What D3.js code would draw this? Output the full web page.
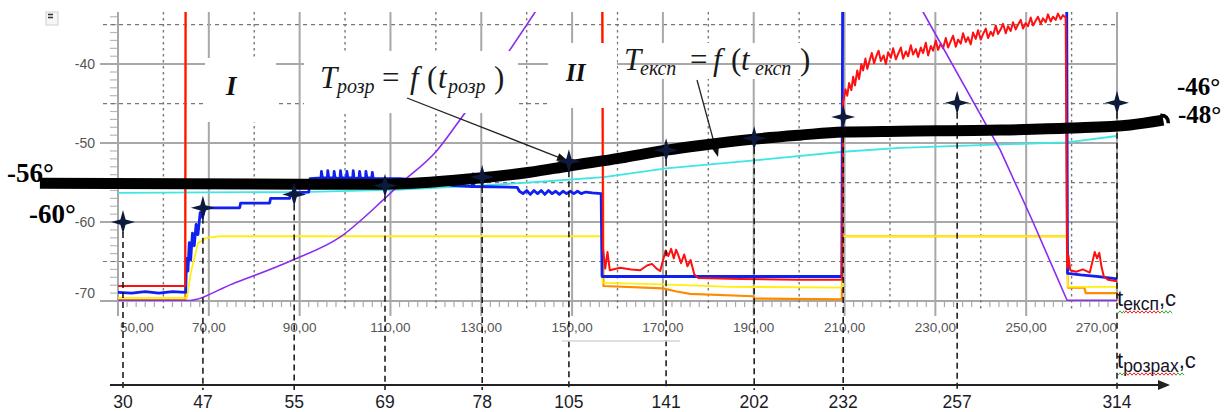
<!DOCTYPE html>
<html>
<head>
<meta charset="utf-8">
<script src="https://cdn.jsdelivr.net/npm/d3@7"></script>
<style>
  body { margin: 0; background: #fff; }
  svg { display: block; }
</style>
</head>
<body>
<svg id="chart" width="1229" height="412"></svg>
<script>
// ---- data ----
// experimental time axis (top), labels every 20 s
const xTicks = [50, 70, 90, 110, 130, 150, 170, 190, 210, 230, 250, 270];
const yTicks = [-40, -50, -60, -70];

// calculated time axis (bottom) and where each point sits on the experimental axis
const calcLabels = [30, 47, 55, 69, 78, 105, 141, 202, 232, 257, 314];
const calcAtExp = [51.1, 68.7, 88.8, 108.8, 130.2, 149.3, 170.7, 190.1, 209.7, 234.8, 270];
const markTemp = [-60.0, -58.2, -56.5, -55.4, -54.3, -52.3, -50.9, -49.4, -46.7, -44.9, -44.9];

// T_розр = f(t_розр), thick black curve
const calcCurve = [[32.8, -55.1], [90.1, -55.2], [108.8, -55.2], [118.7, -54.95], [130.2, -54.4],
  [140.7, -53.7], [149.3, -52.9], [160.6, -51.9], [170.7, -50.9], [178.2, -50.3], [190.1, -49.5],
  [200.2, -49.0], [209.7, -48.6], [222.2, -48.5], [244.3, -48.35], [259.7, -48.1], [272.9, -47.7],
  [280.2, -47.1]];

// measured channels
const tempRed = [[50, -68.1], [64.8, -68.1], [64.9, -28], [156.6, -28], [156.8, -63.3], [157.3, -65.9],
  [157.8, -63.8], [158.3, -66.1], [160.6, -65.8], [163, -66.0], [165.0, -66.1], [166.5, -65.5],
  [167.6, -65.3], [168.6, -65.9], [169.4, -66.2], [170.0, -64.9], [170.6, -63.6], [171.2, -64.3],
  [171.8, -63.4], [172.4, -64.6], [172.9, -63.5], [173.4, -64.2], [174.0, -65.2], [174.7, -64.1],
  [175.4, -65.6], [176.1, -64.8], [176.9, -66.6], [177.8, -67.1], [187, -67.2], [200, -67.3],
  [209.4, -67.3], [209.7, -44.8], [210.2, -43.2], [210.6, -44.0], [211.0, -42.4], [211.5, -43.3],
  [211.9, -41.6], [212.3, -42.7], [212.8, -40.8], [213.2, -41.9], [213.7, -40.0], [214.1, -40.8],
  [214.6, -39.3], [215.0, -40.6], [215.5, -39.6], [216.0, -38.6], [216.5, -39.9], [217.0, -39.0],
  [217.5, -38.3], [218.0, -39.6], [218.6, -38.9], [219.1, -40.0], [219.6, -38.5], [220.2, -39.2],
  [220.7, -38.0], [221.3, -39.4], [221.8, -38.7], [222.4, -37.9], [222.9, -39.3], [223.5, -38.4],
  [224.0, -39.0], [224.6, -37.6], [225.1, -38.8], [225.7, -38.1], [226.2, -39.1], [226.8, -37.9],
  [227.3, -38.6], [227.9, -37.3], [228.4, -38.9], [229.0, -37.7], [229.5, -38.3], [230.1, -37.0],
  [230.6, -38.2], [231.2, -37.4], [231.7, -38.0], [232.3, -36.7], [232.8, -37.9], [233.4, -37.1],
  [233.9, -36.4], [234.5, -37.8], [235.0, -36.9], [235.6, -37.4], [236.1, -36.1], [236.7, -37.2],
  [237.2, -36.6], [237.8, -37.5], [238.3, -36.0], [238.9, -36.8], [239.4, -35.7], [240.0, -36.9],
  [240.5, -36.2], [241.1, -35.5], [241.6, -36.7], [242.2, -35.9], [242.7, -36.4], [243.3, -35.1],
  [243.8, -36.2], [244.4, -35.6], [244.9, -34.9], [245.5, -36.1], [246.0, -35.2], [246.6, -35.8],
  [247.1, -34.7], [247.7, -35.6], [248.2, -35.0], [248.8, -34.4], [249.3, -35.5], [249.9, -34.8],
  [250.4, -35.2], [251.0, -34.1], [251.5, -35.1], [252.1, -34.5], [252.6, -34.0], [253.2, -34.9],
  [253.7, -34.2], [254.3, -34.7], [254.8, -33.7], [255.4, -34.6], [255.9, -34.0], [256.5, -34.4],
  [257.0, -33.6], [257.6, -34.3], [258.1, -33.8], [258.7, -34.1], [259.0, -65.8], [259.3, -64.2],
  [259.7, -66.1], [261.0, -66.3], [262.5, -66.0], [264.0, -66.4], [264.6, -65.0], [265.1, -63.8],
  [265.6, -64.6], [266.1, -63.9], [266.6, -65.7], [267.1, -66.9], [268, -67.3], [270, -67.5]];

const tempBlue = [[50, -68.9], [53, -69.0], [56, -68.8], [59, -69.0], [62, -68.8], [64.9, -68.9],
  [65.1, -64.6], [65.4, -66.2], [65.7, -62.6], [66.0, -64.8], [66.4, -61.4], [66.8, -63.0],
  [67.2, -60.3], [67.6, -61.6], [68.1, -58.8], [68.6, -59.4], [69.2, -58.2], [76.8, -58.2],
  [77.0, -57.6], [83.4, -57.6], [83.6, -57.0], [87.8, -57.0], [88.0, -56.3], [92.0, -56.2],
  [92.3, -54.5], [94.7, -54.4], [94.8, -53.6], [95.0, -54.4], [96.1, -54.4], [96.2, -53.5],
  [96.4, -54.4], [97.5, -54.4], [97.6, -53.6], [97.8, -54.4], [98.9, -54.5], [99.0, -53.5],
  [99.2, -54.4], [100.3, -54.4], [100.4, -53.6], [100.6, -54.4], [101.7, -54.4], [101.8, -53.5],
  [102.0, -54.5], [103.1, -54.4], [103.2, -53.6], [103.4, -54.4], [104.5, -54.5], [104.6, -53.6],
  [104.8, -54.4], [105.9, -54.4], [106.0, -53.7], [106.2, -54.5], [112, -54.5], [118.7, -54.8],
  [123.8, -55.4], [128.0, -55.5], [128.2, -53.9], [128.4, -55.5], [137.9, -55.6], [138.4, -56.1],
  [139.2, -56.4], [140.0, -56.0], [140.8, -56.5], [141.6, -56.0], [142.4, -56.4], [143.2, -56.0],
  [144.0, -56.5], [144.8, -56.0], [145.6, -56.4], [146.4, -56.1], [147.2, -56.5], [148.0, -56.1],
  [148.8, -56.4], [149.6, -56.1], [150.4, -56.4], [151.2, -56.1], [152.0, -56.4], [153.0, -56.2],
  [154.5, -56.3], [156.4, -56.4], [156.6, -66.9], [209.4, -66.9], [209.6, -28], [258.9, -28],
  [259.1, -66.5], [262, -66.7], [266, -66.9], [270, -67.2]];

const tempYellow = [[50, -69.6], [65.2, -69.6], [66.0, -66.5], [67.6, -62.7], [69.5, -62.0],
  [72.5, -61.8], [156.5, -61.8], [156.7, -67.7], [170, -67.9], [185, -68.2], [209.5, -68.3],
  [209.7, -61.8], [259.0, -61.8], [259.2, -68.2], [270, -68.2]];

const tempOrange = [[50, -69.9], [64.8, -69.9], [64.9, -28], [156.7, -28], [156.9, -68.1],
  [170.0, -68.4], [173, -68.8], [176.0, -69.1], [189.9, -69.4], [190.2, -69.7], [209.4, -69.8],
  [209.6, -61.8], [259.0, -61.8], [259.2, -68.3], [262.8, -68.3], [263.1, -69.0], [270, -69.0]];

const tempCyan = [[50, -56.3], [90.1, -56.2], [112.1, -55.9], [129.7, -55.4], [143.0, -54.9],
  [157.0, -54.3], [170.7, -53.2], [190.1, -52.2], [209.7, -51.1], [222.2, -50.6], [259.0, -49.9],
  [270, -49.1]];

const purpleRise = [[50, -69.95], [65.2, -69.95], [75.3, -67.8], [88.5, -64.8], [98.9, -61.9],
  [108.4, -57.2], [112.1, -55.2], [120.3, -50.9], [126.0, -46.5], [136.3, -38.2], [142.9, -32.5]];
const purpleFall = [[225.9, -31.9], [227.3, -33.4], [244.3, -50.9], [251.5, -60.0], [259.0, -69.9],
  [270, -69.9]];

// ---- scales ----
const x = d3.scaleLinear().domain([50, 270]).range([118, 1117]);
const y = d3.scaleLinear().domain([-70, -33.4]).range([301, 12]);
const plotL = x(50), plotR = x(270), plotT = y(-33.4), plotB = y(-70);

const svg = d3.select("#chart");
svg.append("rect").attr("width", 1229).attr("height", 412).attr("fill", "#fff");

svg.append("defs").append("clipPath").attr("id", "plot").append("rect")
  .attr("x", plotL).attr("y", plotT).attr("width", plotR - plotL).attr("height", plotB - plotT);

// little window icon top-left
svg.append("rect").attr("x", 46).attr("y", 12).attr("width", 12).attr("height", 13)
  .attr("fill", "#f6f6f6").attr("stroke", "#d0d0d0");
svg.append("path").attr("d", "M48,14.5h5M48,17.5h5").attr("stroke", "#333").attr("stroke-width", 1.5);

// ---- grid ----
const grid = svg.append("g");

grid.selectAll(".ym").data(d3.range(-70, -33, 1)).join("line")
  .attr("x1", 110).attr("x2", plotL).attr("y1", d => y(d)).attr("y2", d => y(d))
  .attr("stroke", "#b8b8b8").attr("stroke-width", 1.2);

grid.selectAll(".hd").data([-65, -55, -45, -35]).join("line")
  .attr("x1", 103).attr("x2", plotR).attr("y1", d => y(d)).attr("y2", d => y(d))
  .attr("stroke", "#777").attr("stroke-width", 1.2).attr("stroke-dasharray", "4,4");

grid.selectAll(".hs").data(yTicks).join("line")
  .attr("x1", 100).attr("x2", plotR).attr("y1", d => y(d)).attr("y2", d => y(d))
  .attr("stroke", "#a8a8a8").attr("stroke-width", 2);

grid.selectAll(".xm").data(d3.range(50, 271, 2).filter(d => d % 10 !== 0)).join("line")
  .attr("x1", d => x(d)).attr("x2", d => x(d)).attr("y1", plotB).attr("y2", plotB + 6)
  .attr("stroke", "#aaa").attr("stroke-width", 1.2);

grid.selectAll(".vd").data(d3.range(60, 270, 20)).join("line")
  .attr("x1", d => x(d)).attr("x2", d => x(d)).attr("y1", plotT).attr("y2", plotB + 11)
  .attr("stroke", "#777").attr("stroke-width", 1.4).attr("stroke-dasharray", "2.5,3.5");

grid.selectAll(".vs").data(xTicks).join("line")
  .attr("x1", d => x(d)).attr("x2", d => x(d)).attr("y1", plotT)
  .attr("y2", d => (d === 270 ? plotB : plotB + 15))
  .attr("stroke", "#a8a8a8").attr("stroke-width", 2);

grid.selectAll(".xl").data(xTicks).join("text")
  .attr("x", (d, i) => (i === 0 ? x(d) + 2 : x(d)))
  .attr("y", 332)
  .attr("text-anchor", (d, i) => (i === 0 ? "start" : i === xTicks.length - 1 ? "end" : "middle"))
  .attr("font-family", "Liberation Sans, Arial, sans-serif").attr("font-size", 13.5)
  .attr("fill", "#555").text(d => d.toFixed(2).replace(".", ","));

grid.selectAll(".yl").data(yTicks).join("text")
  .attr("x", 95).attr("y", d => y(d) + 5 - (d === -70 ? 8 : 0))
  .attr("text-anchor", "end")
  .attr("font-family", "Liberation Sans, Arial, sans-serif").attr("font-size", 14)
  .attr("fill", "#555").text(d => d);

// ---- measured channels ----
const line = d3.line().x(d => x(d[0])).y(d => y(d[1]));
const smooth = d3.line().x(d => x(d[0])).y(d => y(d[1])).curve(d3.curveMonotoneX);
const series = svg.append("g").attr("clip-path", "url(#plot)");

const draw = (data, color, w, gen = line) =>
  series.append("path").datum(data).attr("d", gen).attr("fill", "none")
    .attr("stroke", color).attr("stroke-width", w).attr("stroke-linejoin", "round");

draw(tempOrange, "#ff8a00", 2.2);
draw(tempYellow, "#ffee10", 1.8);
draw(tempCyan, "#3ee6e6", 1.8);
draw(tempBlue, "#1020f0", 2.8);
draw(tempRed, "#ff1010", 2);
draw(purpleRise, "#8a2cf0", 1.6, smooth);
draw(purpleFall, "#8a2cf0", 1.6);

// ---- label boxes ----
const boxes = [[205, 58, 71, 64], [304, 51, 214, 62], [548, 43, 69, 65], [618, 43, 194, 36]];
svg.selectAll(".box").data(boxes).join("rect")
  .attr("x", d => d[0]).attr("y", d => d[1]).attr("width", d => d[2]).attr("height", d => d[3])
  .attr("fill", "#fff");
svg.append("line").attr("x1", 618).attr("x2", 812).attr("y1", y(-40)).attr("y2", y(-40))
  .attr("stroke", "#a8a8a8").attr("stroke-width", 2);

const serif = "Liberation Serif, Times New Roman, serif";
svg.append("text").attr("x", 226).attr("y", 95).attr("font-family", serif).attr("font-size", 27)
  .attr("font-weight", "bold").attr("font-style", "italic").attr("fill", "#111").text("I");
svg.append("text").attr("x", 566).attr("y", 81).attr("font-family", serif).attr("font-size", 25)
  .attr("font-weight", "bold").attr("font-style", "italic").attr("fill", "#111").text("II");

function formula(base, sub, xs) {
  const g = svg.append("g").attr("font-family", serif).attr("fill", "#1a1a1a");
  const parts = [["T", 31, true, 0], [sub, 20, true, 5], ["=", 31, false, 0], ["f", 31, true, 0],
    ["(", 31, false, 0], ["t", 31, true, 0], [sub, 20, true, 5], [")", 31, false, 0]];
  parts.forEach((p, i) => {
    g.append("text").attr("x", xs[i]).attr("y", base + p[3]).attr("font-size", p[1])
      .attr("font-style", p[2] ? "italic" : "normal").text(p[0]);
  });
}
formula(88, "розр", [320, 337, 382, 410, 427, 438, 448, 494]);
formula(70, "експ", [624, 640, 690, 713, 731, 741, 755, 800]);

function arrow(x1, y1, x2, y2) {
  const a = Math.atan2(y2 - y1, x2 - x1), L = 11, W = 4;
  svg.append("line").attr("x1", x1).attr("y1", y1).attr("x2", x2 - L * Math.cos(a) * 0.6)
    .attr("y2", y2 - L * Math.sin(a) * 0.6).attr("stroke", "#222").attr("stroke-width", 1.3);
  const bx = x2 - L * Math.cos(a), by = y2 - L * Math.sin(a);
  svg.append("path")
    .attr("d", `M${x2},${y2}L${bx + W * Math.sin(a)},${by - W * Math.cos(a)}L${bx - W * Math.sin(a)},${by + W * Math.cos(a)}Z`)
    .attr("fill", "#111");
}
arrow(407, 98, 568, 161);
arrow(697, 80, 718, 157);

// ---- calculated points and drop lines ----
const marks = calcLabels.map((lab, i) => ({ lab, t: calcAtExp[i], v: markTemp[i] }));

svg.selectAll(".drop").data(marks).join("line")
  .attr("x1", d => x(d.t)).attr("x2", d => x(d.t)).attr("y1", d => y(d.v)).attr("y2", 390)
  .attr("stroke", "#111").attr("stroke-width", 1.5).attr("stroke-dasharray", "6,4");

svg.append("path").datum(calcCurve).attr("d", smooth).attr("fill", "none")
  .attr("stroke", "#000").attr("stroke-width", 11);
const last = calcCurve[calcCurve.length - 1];
svg.append("path")
  .attr("d", `M${x(last[0]) - 3},${y(last[1]) - 5} q8,0 8,8`)
  .attr("fill", "none").attr("stroke", "#000").attr("stroke-width", 3.5);

const star = (cx, cy) => {
  const R = 12, r = 2.6;
  return `M${cx},${cy - R}L${cx + r},${cy - r}L${cx + R},${cy}L${cx + r},${cy + r}L${cx},${cy + R}L${cx - r},${cy + r}L${cx - R},${cy}L${cx - r},${cy - r}Z`;
};
svg.selectAll(".star").data(marks).join("path")
  .attr("d", d => star(x(d.t), y(d.v))).attr("fill", "#0e1a3c");

// degree labels
const deg = [["-56°", 7, 182, 27], ["-60°", 29, 223, 27], ["-46°", 1177, 94.5, 25], ["-48°", 1178, 122.5, 25]];
svg.selectAll(".deg").data(deg).join("text")
  .attr("x", d => d[1]).attr("y", d => d[2]).attr("font-family", serif).attr("font-size", d => d[3])
  .attr("font-weight", "bold").attr("fill", "#000").text(d => d[0]);

// ---- calculated time axis ----
svg.append("line").attr("x1", 110).attr("x2", 1162).attr("y1", 385).attr("y2", 385)
  .attr("stroke", "#222").attr("stroke-width", 2);
svg.append("path").attr("d", "M1158,380L1170,385L1158,390Z").attr("fill", "#222");

svg.selectAll(".cl").data(marks).join("text")
  .attr("x", d => x(d.t)).attr("y", 408).attr("text-anchor", "middle")
  .attr("font-family", "Liberation Sans, Arial, sans-serif").attr("font-size", 17.5)
  .attr("fill", "#1c1c28").text(d => d.lab);

// gray stray line under the labels
svg.append("line").attr("x1", 562).attr("x2", 680).attr("y1", 341).attr("y2", 341)
  .attr("stroke", "#d4d4d4").attr("stroke-width", 1.5);

// axis titles
const sans = "Liberation Sans, Arial, sans-serif";
function axisTitle(x0, base, sub) {
  const t = svg.append("text").attr("x", x0).attr("y", base).attr("font-family", sans)
    .attr("font-size", 22).attr("fill", "#141428");
  t.append("tspan").text("t");
  t.append("tspan").attr("dy", 4).attr("font-size", 17.5).text(sub);
  t.append("tspan").attr("dy", -4).text(",c");
}
axisTitle(1117, 306, "експ");
axisTitle(1117, 368, "розрах");

function wave(x1, x2, yy, color) {
  const pts = d3.range(x1, x2 + 0.1, 2).map((px, i) => [px, yy + (i % 2 ? -1.2 : 1.2)]);
  svg.append("path").attr("d", d3.line()(pts)).attr("fill", "none")
    .attr("stroke", color).attr("stroke-width", 1);
}
wave(1118, 1124, 312, "#3a3");
wave(1124, 1160, 312, "#e22");
wave(1160, 1172, 312, "#3a3");
wave(1118, 1124, 374, "#3a3");
wave(1124, 1176, 374, "#e22");
wave(1176, 1184, 374, "#3a3");
</script>
</body>
</html>
